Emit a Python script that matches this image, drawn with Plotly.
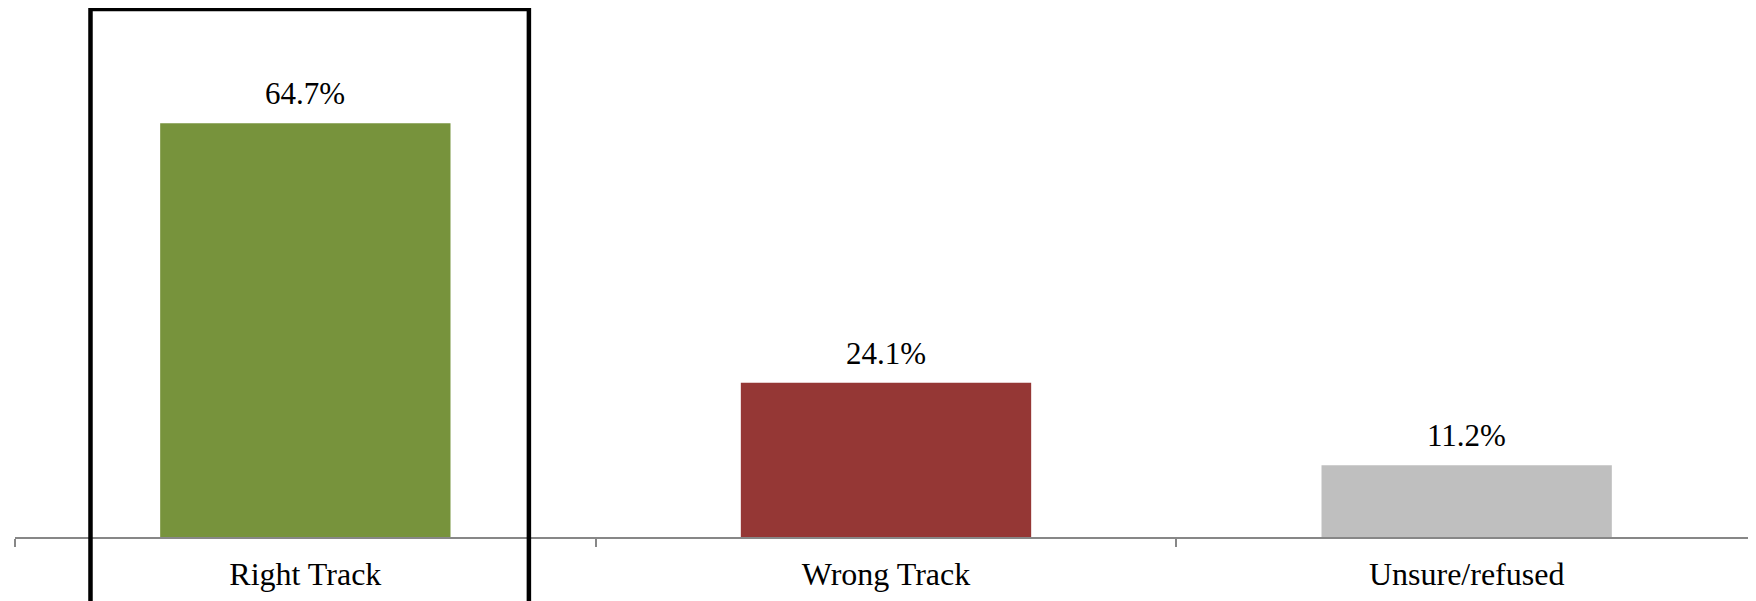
import plotly.graph_objects as go

categories = ["Right Track", "Wrong Track", "Unsure/refused"]
values = [64.7, 24.1, 11.2]
bar_colors = ["#77933C", "#953735", "#BFBFBF"]
labels = [f"{v:.1f}%" for v in values]

font_family = "Liberation Serif"

fig = go.Figure()

fig.add_trace(go.Bar(
    x=categories,
    y=values,
    marker=dict(color=bar_colors, line=dict(width=0)),
    width=0.5,
    hoverinfo="skip",
))

# value labels above bars
for cat, val, lab in zip(categories, values, labels):
    fig.add_annotation(
        x=cat, y=val, text=lab,
        showarrow=False, yanchor="bottom", yshift=10,
        font=dict(family=font_family, size=31, color="#000000"),
    )

# highlight box around the first category
fig.add_shape(
    type="rect", xref="x", yref="paper",
    x0=-0.37, x1=0.385, y0=-0.3, y1=0.998,
    line=dict(color="#000000", width=4.5),
    fillcolor="rgba(0,0,0,0)",
)

fig.update_layout(
    width=1749,
    height=593,
    margin=dict(l=7, r=0, t=0, b=64),
    paper_bgcolor="white",
    plot_bgcolor="white",
    showlegend=False,
    font=dict(family=font_family, size=32, color="#000000"),
    xaxis=dict(
        range=[-0.5, 2.5],
        showline=True, linecolor="#878787", linewidth=2,
        ticks="outside", tickson="boundaries", ticklen=8,
        tickcolor="#878787", tickwidth=2,
        ticklabelstandoff=8,
        showgrid=False, zeroline=False,
        tickfont=dict(family=font_family, size=32, color="#000000"),
    ),
    yaxis=dict(
        range=[0, 82.7],
        visible=False, showgrid=False, zeroline=False,
    ),
)

fig.write_html("out.html")
